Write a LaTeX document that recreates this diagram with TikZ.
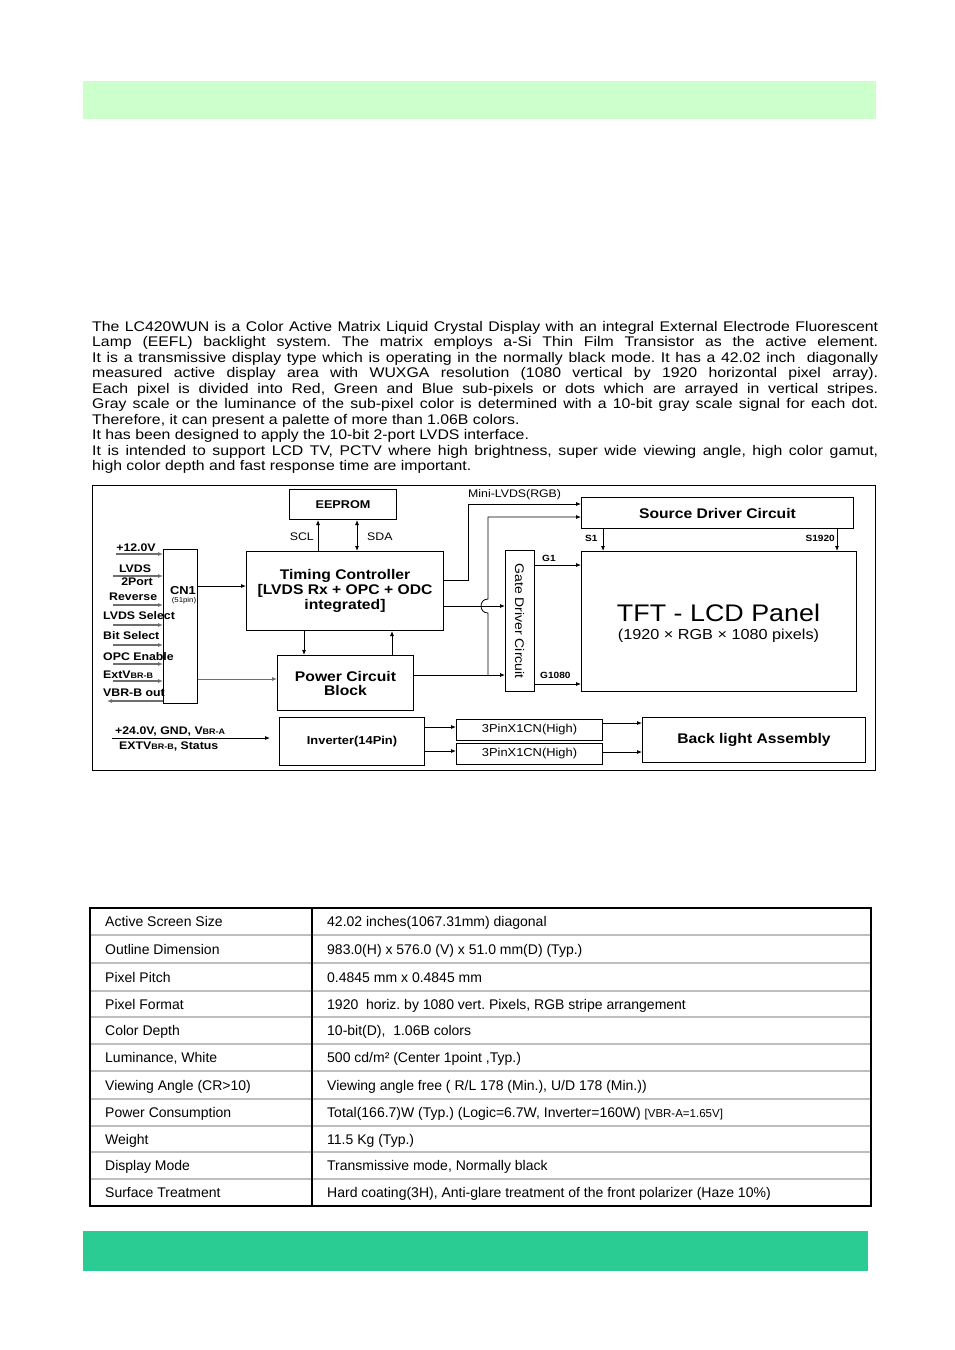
\documentclass[tikz,border=0pt]{standalone}
\usepackage{fontspec}
\setmainfont{Liberation Sans}
\newfontfamily\pfont[FakeStretch=1.13]{Liberation Sans}
\newfontfamily\dfont[FakeStretch=1.12]{Liberation Sans}
\usetikzlibrary{arrows.meta}
\definecolor{topgreen}{RGB}{204,255,204}
\definecolor{botgreen}{RGB}{42,204,148}
\definecolor{rulegray}{RGB}{190,190,190}
\definecolor{sig}{RGB}{110,110,110}
\newcommand\fsz[1]{\fontsize{#1}{#1}\selectfont}
\newcommand\vsm[1]{{\fontsize{8}{8}\selectfont #1}}
\frenchspacing
\begin{document}
\begin{tikzpicture}[x=1pt,y=-1pt,
  box/.style={draw, line width=1pt, inner sep=0, anchor=north west},
  lab/.style={inner sep=0, font=\dfont\fsz{11}\bfseries},
  sml/.style={inner sep=0, font=\dfont\fsz{11}},
  ttl/.style={font=\dfont\fsz{14}\bfseries, align=center},
  arr/.style={line width=0.8pt, -{Latex[length=5pt,width=4pt]}},
  darr/.style={line width=0.8pt, {Latex[length=5pt,width=4pt]}-{Latex[length=5pt,width=4pt]}},
  garr/.style={line width=1.2pt, draw=sig, -{Latex[length=5pt,width=4pt]}},
  tl/.style={inner sep=0, anchor=base west, font=\fsz{14}},
]
\useasboundingbox (0,0) rectangle (954,1350);
\fill[white] (0,0) rectangle (954,1350);

% colour bars
\fill[topgreen] (83,81) rectangle (876,119);
\fill[botgreen] (83,1231) rectangle (868,1271);

% paragraph
\node[inner sep=0, anchor=north west, text width=786pt, align=justify,
      font=\pfont\fontsize{14}{15.5}\selectfont] (para) at (92,321)
{\hyphenpenalty=10000\exhyphenpenalty=10000\frenchspacing
The LC420WUN is a Color Active Matrix Liquid Crystal Display with an integral External Electrode Fluorescent\linebreak
Lamp (EEFL) backlight system. The matrix employs a-Si Thin Film Transistor as the active element.\linebreak
It is a transmissive display type which is operating in the normally black mode. It has a 42.02 inch\ \ diagonally\linebreak
measured active display area with WUXGA resolution (1080 vertical by 1920 horizontal pixel array).\linebreak
Each pixel is divided into Red, Green and Blue sub-pixels or dots which are arrayed in vertical stripes.\linebreak
Gray scale or the luminance of the sub-pixel color is determined with a 10-bit gray scale signal for each dot.\linebreak
Therefore, it can present a palette of more than 1.06B colors.\par
It has been designed to apply the 10-bit 2-port LVDS interface.\par
It is intended to support LCD TV, PCTV where high brightness, super wide viewing angle, high color gamut,\linebreak
high color depth and fast response time are important.};

% ---------------- block diagram ----------------
\draw[line width=0.8pt] (92,485) rectangle (875,770);

\node[box, minimum width=107, minimum height=30, font=\dfont\fsz{11.3}\bfseries] (ee) at (289,489) {EEPROM};
\node[box, minimum width=197, minimum height=79, ttl] (tc) at (246,551)
  {Timing Controller\\[1pt][LVDS Rx + OPC + ODC\\[1pt]integrated]};
\node[box, minimum width=34, minimum height=154] (cn1) at (163,549) {};
\node[box, minimum width=136, minimum height=55, ttl] (pc) at (277,655) {Power Circuit\\Block};
\node[box, minimum width=145, minimum height=48, font=\dfont\fsz{11.5}\bfseries] (inv) at (279,717) {Inverter(14Pin)};
\node[box, minimum width=146, minimum height=21, font=\dfont\fsz{11.5}] (p1) at (456,719) {3PinX1CN(High)};
\node[box, minimum width=146, minimum height=21, font=\dfont\fsz{11.5}] (p2) at (456,743) {3PinX1CN(High)};
\node[box, minimum width=223, minimum height=45, ttl] (bl) at (642,717) {Back light Assembly};
\node[box, minimum width=272, minimum height=31, ttl] (sd) at (581,497) {Source Driver Circuit};
\node[box, minimum width=275, minimum height=140] (tft) at (581,551) {};
\node[box, minimum width=29, minimum height=141] (gd) at (505,550) {};

\node[inner sep=0, font=\dfont\fsz{12.5}, rotate=-90] (gdt) at (519.5,621) {Gate Driver Circuit};
\node[inner sep=0, font=\dfont\fsz{24}] (tftt) at (718.5,613) {TFT - LCD Panel};
\node[inner sep=0, font=\dfont\fsz{14.5}] (tfts) at (718.5,636) {(1920 × RGB × 1080 pixels)};

\node[inner sep=0, font=\dfont\fsz{11.5}\bfseries] (cn1t) at (183,591) {CN1};
\node[inner sep=0, font=\dfont\fsz{7}] (cn1s) at (184,601) {(51pin)};

% left labels
\node[lab] (l12) at (136,548) {+12.0V};
\node[lab] (llv) at (135,569) {LVDS};
\node[lab] (l2p) at (137,582) {2Port};
\node[lab, anchor=west] (lrev) at (109,597) {Reverse};
\node[lab, anchor=west] (lsel) at (103,616) {LVDS Select};
\node[lab, anchor=west] (lbit) at (103,636) {Bit Select};
\node[lab, anchor=west] (lopc) at (103,657) {OPC Enable};
\node[lab, anchor=west] (lext) at (103,675) {ExtV\vsm{BR-B}};
\node[lab, anchor=west] (lout) at (103,693) {VBR-B out};

% left gray input arrows
\coordinate (i1) at (116,554);
\coordinate (i2) at (113,576);
\coordinate (i3) at (113,605);
\coordinate (i4) at (113,625);
\coordinate (i5) at (113,645);
\coordinate (i6) at (113,664);
\coordinate (i7) at (113,681);
\coordinate (o1) at (107,701);
\foreach \c in {i1,i2,i3,i4,i5,i6,i7}
  \draw[garr] (\c) -- (\c -| cn1.west);
\draw[garr] (o1 -| cn1.west) -- (o1);

% connectors
\draw[arr] (318,0 |- tc.north) -- (318,0 |- ee.south);
\draw[darr] (357,0 |- tc.north) -- (357,0 |- ee.south);
\node[sml, anchor=east] (scl) at (314,537) {SCL};
\node[sml, anchor=west] (sda) at (367,537) {SDA};

\draw[arr] (cn1.east |- 0,586) -- (tc.west |- 0,586);
\draw[garr, line width=0.9pt] (cn1.east |- 0,679) -- (pc.west |- 0,679);
\draw[arr] (304,0 |- tc.south) -- (304,0 |- pc.north);
\draw[arr] (392,0 |- pc.north) -- (392,0 |- tc.south);

\draw[arr] (tc.east |- 0,580) -- (468,580) -- (468,504) -- (sd.west |- 0,504);
\node[sml, anchor=west] (mini) at (468,495) {Mini-LVDS(RGB)};

\coordinate (j1) at (488,675);
\draw[arr] (pc.east |- 0,675) -- (gd.west |- 0,675);
\draw[arr] (j1) -- (488,613) .. controls (478.7,613) and (478.7,599) .. (488,599) -- (488,517) -- (sd.west |- 0,517);
\draw[arr] (tc.east |- 0,606) -- (gd.west |- 0,606);

\draw[arr] (gd.east |- 0,565) -- (tft.west |- 0,565);
\draw[arr] (gd.east |- 0,684) -- (tft.west |- 0,684);
\node[inner sep=0, anchor=west, font=\dfont\fsz{9}\bfseries] (g1) at (542,558) {G1};
\node[inner sep=0, anchor=west, font=\dfont\fsz{9}\bfseries] (g1080) at (540,675) {G1080};

\draw[arr] (603,0 |- sd.south) -- (603,0 |- tft.north);
\draw[arr] (837,0 |- sd.south) -- (837,0 |- tft.north);
\node[inner sep=0, anchor=west, font=\dfont\fsz{9}\bfseries] (s1) at (585,538) {S1};
\node[inner sep=0, anchor=east, font=\dfont\fsz{9}\bfseries] (s1920) at (835,538) {S1920};

\coordinate (pin) at (112,738);
\coordinate (pend) at (270,738);
\draw[arr] (pin) -- (pend);
\node[lab, anchor=west] (v24) at (115,731) {+24.0V, GND, V\vsm{BR-A}};
\node[lab, anchor=west] (vst) at (119,746) {EXTV\vsm{BR-B}, Status};

\draw[arr] (inv.east |- 0,727) -- (p1.west |- 0,727);
\draw[arr] (inv.east |- 0,751) -- (p2.west |- 0,751);
\draw[arr] (p1.east |- 0,723) -- (bl.west |- 0,723);
\draw[arr] (p2.east |- 0,752) -- (bl.west |- 0,752);

% ---------------- table ----------------
\foreach \y in {935,963,991,1017,1044,1071,1099,1126,1152,1179}
  \draw[rulegray, line width=1.5pt] (91,\y) -- (870,\y);
\draw[line width=2pt] (90,908) rectangle (871,1206);
\draw[line width=2pt] (312,908) -- (312,1206);

\node[tl] (l1)  at (105,926.5)  {Active Screen Size};
\node[tl] (l2)  at (105,954)    {Outline Dimension};
\node[tl] (l3)  at (105,982)    {Pixel Pitch};
\node[tl] (l4)  at (105,1009)   {Pixel Format};
\node[tl] (l5)  at (105,1035.5) {Color Depth};
\node[tl] (l6)  at (105,1062.5) {Luminance, White};
\node[tl] (l7)  at (105,1090)   {Viewing Angle (CR>10)};
\node[tl] (l8)  at (105,1117.5) {Power Consumption};
\node[tl] (l9)  at (105,1144)   {Weight};
\node[tl] (l10) at (105,1170.5) {Display Mode};
\node[tl] (l11) at (105,1197.5) {Surface Treatment};

\node[tl] (r1)  at (327,926.5)  {42.02 inches(1067.31mm) diagonal};
\node[tl] (r2)  at (327,954)    {983.0(H) x 576.0 (V) x 51.0 mm(D) (Typ.)};
\node[tl] (r3)  at (327,982)    {0.4845 mm x 0.4845 mm};
\node[tl] (r4)  at (327,1009)   {1920\ \ horiz. by 1080 vert. Pixels, RGB stripe arrangement};
\node[tl] (r5)  at (327,1035.5) {10-bit(D),\ \ 1.06B colors};
\node[tl] (r6)  at (327,1062.5) {500 cd/m² (Center 1point ,Typ.)};
\node[tl] (r7)  at (327,1090)   {Viewing angle free ( R/L 178 (Min.), U/D 178 (Min.))};
\node[tl] (r8)  at (327,1117.5) {Total(166.7)W (Typ.) (Logic=6.7W, Inverter=160W) {\fontsize{11.5}{11.5}\selectfont [VBR-A=1.65V]}};
\node[tl] (r9)  at (327,1144)   {11.5 Kg (Typ.)};
\node[tl] (r10) at (327,1170.5) {Transmissive mode, Normally black};
\node[tl] (r11) at (327,1197.5) {Hard coating(3H), Anti-glare treatment of the front polarizer (Haze 10\%)};
\end{tikzpicture}
\end{document}
